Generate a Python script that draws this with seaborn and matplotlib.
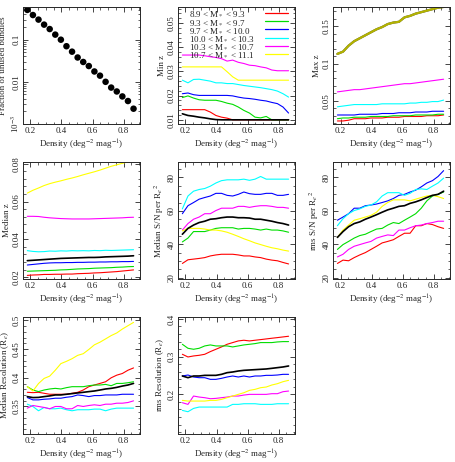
import matplotlib
matplotlib.use("Agg")
import matplotlib.pyplot as plt
import seaborn as sns
from matplotlib.lines import Line2D
from matplotlib.ticker import AutoMinorLocator, FuncFormatter, LogLocator, NullFormatter

density = [0.18, 0.216, 0.252, 0.288, 0.324, 0.36, 0.396, 0.432, 0.468, 0.504,
           0.54, 0.576, 0.612, 0.648, 0.684, 0.72, 0.756, 0.792, 0.828, 0.864]

bins = ["8.9 < M$_*$ < 9.3", "9.3 < M$_*$ < 9.7", "9.7 < M$_*$ < 10.0",
        "10.0 < M$_*$ < 10.3", "10.3 < M$_*$ < 10.7", "10.7 < M$_*$ < 11.1"]
bin_colors = ["red", "#00dd00", "blue", "cyan", "magenta", "yellow"]

unused_frac = [0.51, 0.385, 0.30, 0.228, 0.179, 0.132, 0.10, 0.070, 0.052, 0.0378,
               0.0296, 0.0237, 0.0176, 0.014, 0.010, 0.0073, 0.0059, 0.0045, 0.0035, 0.0023]

# Min z
min_z_all = [0.0125, 0.0118, 0.0115, 0.0111, 0.0108, 0.0104, 0.0101, 0.01, 0.01, 0.01,
             0.01, 0.01, 0.01, 0.01, 0.01, 0.01, 0.01, 0.01, 0.01, 0.01]
min_z = [
    [0.0142, 0.0142, 0.0142, 0.0142, 0.0142, 0.0132, 0.0118, 0.0111, 0.0107, 0.01,
     0.01, 0.01, 0.01, 0.01, 0.01, 0.01, 0.01, 0.01, 0.01, 0.01],
    [0.0192, 0.0199, 0.019, 0.0183, 0.0181, 0.0181, 0.0181, 0.0176, 0.0169, 0.0164,
     0.0153, 0.0139, 0.0128, 0.0111, 0.0108, 0.0114, 0.01, 0.01, 0.01, 0.01],
    [0.0208, 0.0211, 0.0204, 0.0201, 0.0201, 0.0201, 0.0201, 0.0201, 0.0201, 0.0199,
     0.0194, 0.019, 0.0188, 0.0185, 0.0181, 0.0178, 0.0172, 0.0167, 0.0153, 0.0128],
    [0.0264, 0.0253, 0.0267, 0.0268, 0.0264, 0.026, 0.0253, 0.0253, 0.025, 0.025,
     0.0246, 0.0242, 0.0239, 0.0236, 0.0233, 0.0229, 0.0225, 0.0219, 0.0208, 0.0194],
    [0.0368, 0.0368, 0.0368, 0.0368, 0.0365, 0.0361, 0.0358, 0.0353, 0.0343, 0.0347,
     0.0338, 0.0333, 0.0326, 0.0324, 0.0319, 0.0315, 0.0306, 0.0303, 0.0303, 0.0303],
    [0.0319, 0.0319, 0.0319, 0.0319, 0.0319, 0.0319, 0.0319, 0.0319, 0.0299, 0.0278,
     0.0264, 0.0264, 0.0264, 0.0264, 0.0264, 0.0264, 0.0264, 0.0264, 0.0264, 0.0264],
]

# Max z
max_z = [
    [0.023, 0.023, 0.024, 0.026, 0.026, 0.026, 0.027, 0.027, 0.027, 0.028,
     0.028, 0.028, 0.029, 0.029, 0.029, 0.029, 0.030, 0.030, 0.030, 0.031],
    [0.026, 0.027, 0.027, 0.028, 0.028, 0.028, 0.029, 0.029, 0.029, 0.029,
     0.030, 0.030, 0.030, 0.030, 0.031, 0.031, 0.031, 0.031, 0.032, 0.032],
    [0.031, 0.031, 0.031, 0.031, 0.032, 0.032, 0.032, 0.032, 0.033, 0.033,
     0.033, 0.034, 0.034, 0.034, 0.035, 0.035, 0.035, 0.036, 0.036, 0.036],
    [0.042, 0.043, 0.044, 0.045, 0.045, 0.045, 0.045, 0.045, 0.046, 0.046,
     0.046, 0.046, 0.046, 0.047, 0.047, 0.048, 0.048, 0.049, 0.049, 0.051],
    [0.062, 0.063, 0.064, 0.065, 0.065, 0.066, 0.067, 0.068, 0.069, 0.070,
     0.071, 0.072, 0.073, 0.073, 0.074, 0.075, 0.076, 0.077, 0.078, 0.079],
    [0.113, 0.116, 0.124, 0.130, 0.134, 0.138, 0.142, 0.146, 0.149, 0.153,
     0.155, 0.156, 0.162, 0.164, 0.167, 0.169, 0.171, 0.173, 0.175, 0.176],
]
max_z_all = max_z[5]

# Median z
med_z_all = [0.0287, 0.0289, 0.0291, 0.0293, 0.0295, 0.0297, 0.0299, 0.0300, 0.0301, 0.0302,
             0.0303, 0.0304, 0.0304, 0.0305, 0.0307, 0.0308, 0.0309, 0.0310, 0.0311, 0.0313]
med_z = [
    [0.0209, 0.0211, 0.0212, 0.0214, 0.0214, 0.0215, 0.0215, 0.0216, 0.0216, 0.0218,
     0.0219, 0.0220, 0.0222, 0.0223, 0.0225, 0.0227, 0.0229, 0.0232, 0.0235, 0.0238],
    [0.0231, 0.0232, 0.0233, 0.0234, 0.0235, 0.0236, 0.0238, 0.0239, 0.0241, 0.0243,
     0.0244, 0.0245, 0.0247, 0.0248, 0.0249, 0.0250, 0.0252, 0.0253, 0.0255, 0.0256],
    [0.0264, 0.0267, 0.0270, 0.0273, 0.0275, 0.0276, 0.0276, 0.0277, 0.0277, 0.0278,
     0.0278, 0.0279, 0.0279, 0.0280, 0.0280, 0.0281, 0.0281, 0.0282, 0.0282, 0.0283],
    [0.0340, 0.0336, 0.0334, 0.0335, 0.0338, 0.0337, 0.0339, 0.0338, 0.0340, 0.0339,
     0.0340, 0.0339, 0.0341, 0.0340, 0.0342, 0.0341, 0.0342, 0.0343, 0.0344, 0.0345],
    [0.0522, 0.0522, 0.0521, 0.0517, 0.0514, 0.0512, 0.0510, 0.0509, 0.0508, 0.0508,
     0.0508, 0.0508, 0.0509, 0.0510, 0.0511, 0.0512, 0.0513, 0.0514, 0.0516, 0.0517],
    [0.0645, 0.0660, 0.0672, 0.0685, 0.0695, 0.0703, 0.0710, 0.0718, 0.0725, 0.0733,
     0.0742, 0.0750, 0.0758, 0.0767, 0.0777, 0.0787, 0.0795, 0.0803, 0.0810, 0.0818],
]

# Median S/N per Re^2
med_sn_all = [46.0, 49.5, 51.5, 53.0, 53.8, 55.0, 55.3, 55.9, 56.3, 56.3,
              55.9, 55.9, 55.7, 55.0, 55.0, 54.4, 53.8, 53.0, 52.4, 51.5]
med_sn = [
    [28.5, 30.7, 31.1, 31.5, 32.0, 33.0, 33.6, 34.0, 34.0, 34.0,
     33.6, 33.0, 33.0, 32.4, 32.0, 31.1, 30.5, 30.1, 29.1, 28.2],
    [41.4, 43.7, 47.6, 47.6, 47.6, 48.5, 49.5, 49.9, 49.9, 49.9,
     49.1, 49.5, 49.5, 49.1, 48.5, 49.1, 48.5, 48.5, 48.0, 47.2],
    [58.3, 63.1, 65.0, 67.0, 68.0, 68.9, 70.5, 70.5, 69.3, 68.9,
     69.9, 71.3, 70.3, 69.9, 69.9, 70.5, 70.5, 69.3, 69.3, 69.9],
    [61.2, 68.9, 71.8, 72.8, 73.4, 74.8, 76.7, 78.1, 78.6, 78.6,
     78.6, 79.0, 78.3, 79.0, 80.6, 79.0, 79.0, 79.0, 79.0, 79.0],
    [48.5, 52.4, 55.0, 56.3, 58.3, 58.3, 60.2, 61.6, 61.6, 61.6,
     62.7, 62.7, 62.1, 62.7, 63.1, 63.1, 62.7, 62.1, 62.1, 61.6],
    [48.0, 49.5, 49.5, 49.5, 49.1, 48.5, 48.5, 48.0, 47.2, 46.0,
     44.7, 43.3, 42.1, 40.8, 39.8, 38.8, 37.9, 37.3, 36.5, 35.9],
]

# rms S/N per Re^2
rms_sn_all = [44.1, 47.6, 50.5, 52.4, 53.4, 55.0, 56.3, 57.7, 59.2, 60.6,
              61.6, 62.7, 63.1, 64.5, 65.4, 66.6, 68.0, 69.3, 69.9, 71.8]
rms_sn = [
    [28.5, 30.5, 30.1, 32.0, 33.6, 35.0, 36.9, 38.8, 40.8, 41.7,
     42.7, 44.7, 46.6, 46.6, 51.1, 51.1, 52.4, 51.8, 50.5, 49.5],
    [36.9, 39.8, 41.7, 43.7, 45.2, 46.0, 47.6, 49.1, 49.5, 51.5,
     53.0, 52.4, 54.4, 56.3, 58.3, 61.6, 66.0, 68.9, 69.9, 71.3],
    [54.4, 56.3, 58.3, 61.6, 61.6, 63.1, 63.5, 64.1, 65.0, 66.0,
     67.4, 69.3, 69.9, 71.3, 72.4, 74.4, 76.7, 78.1, 80.6, 84.1],
    [51.1, 55.3, 58.3, 60.2, 61.2, 62.7, 63.5, 65.4, 68.9, 70.9,
     70.9, 70.9, 69.3, 70.5, 72.8, 73.2, 72.8, 74.8, 76.7, 79.6],
    [32.4, 34.0, 36.9, 38.8, 39.8, 40.8, 41.7, 43.7, 44.7, 45.6,
     45.2, 48.5, 48.5, 49.9, 51.1, 51.5, 52.4, 53.0, 53.8, 53.8],
    [44.1, 48.5, 51.5, 54.4, 55.3, 56.3, 57.3, 59.2, 62.7, 65.0,
     66.6, 66.6, 66.6, 66.0, 67.0, 68.0, 68.9, 69.3, 68.5, 67.4],
]

# Median resolution (Re)
med_res_all = [0.3672, 0.3655, 0.3658, 0.3672, 0.3684, 0.3701, 0.3701, 0.3713, 0.3724, 0.3736,
               0.3747, 0.3759, 0.3770, 0.3787, 0.3805, 0.3816, 0.3833, 0.3856, 0.3874, 0.3902]
med_res = [
    [0.3747, 0.3741, 0.3747, 0.3730, 0.3713, 0.3713, 0.3713, 0.3713, 0.3730, 0.3747,
     0.3787, 0.3845, 0.3874, 0.3902, 0.3931, 0.4000, 0.4046, 0.4075, 0.4132, 0.4172],
    [0.3845, 0.3787, 0.3759, 0.3787, 0.3805, 0.3816, 0.3805, 0.3828, 0.3845, 0.3845,
     0.3845, 0.3862, 0.3874, 0.3874, 0.3885, 0.3862, 0.3902, 0.3902, 0.3914, 0.3931],
    [0.3655, 0.3615, 0.3615, 0.3626, 0.3632, 0.3644, 0.3644, 0.3661, 0.3672, 0.3701,
     0.3690, 0.3672, 0.3690, 0.3690, 0.3701, 0.3701, 0.3701, 0.3713, 0.3713, 0.3713],
    [0.3540, 0.3500, 0.3425, 0.3483, 0.3460, 0.3460, 0.3471, 0.3443, 0.3425, 0.3443,
     0.3443, 0.3443, 0.3454, 0.3454, 0.3425, 0.3454, 0.3471, 0.3471, 0.3471, 0.3471],
    [0.3471, 0.3517, 0.3500, 0.3483, 0.3460, 0.3500, 0.3500, 0.3460, 0.3460, 0.3517,
     0.3500, 0.3517, 0.3529, 0.3517, 0.3540, 0.3540, 0.3557, 0.3557, 0.3569, 0.3598],
    [0.3845, 0.3770, 0.3900, 0.3989, 0.4029, 0.4132, 0.4247, 0.4287, 0.4333, 0.4391,
     0.4420, 0.4494, 0.4575, 0.4621, 0.4678, 0.4736, 0.4782, 0.4850, 0.4908, 0.4966],
]

# rms resolution (Re)
rms_res_all = [0.2487, 0.2442, 0.2487, 0.2487, 0.2504, 0.2504, 0.2504, 0.2531, 0.2575, 0.2593,
               0.2619, 0.2637, 0.2646, 0.2655, 0.2664, 0.2673, 0.2690, 0.2708, 0.2726, 0.2752]
rms_res = [
    [0.3062, 0.2991, 0.3018, 0.3035, 0.3062, 0.3133, 0.3195, 0.3257, 0.3327, 0.3372,
     0.3416, 0.3434, 0.3416, 0.3434, 0.3451, 0.3469, 0.3487, 0.3504, 0.3522, 0.3540],
    [0.3327, 0.3221, 0.3195, 0.3221, 0.3283, 0.3310, 0.3283, 0.3283, 0.3283, 0.3257,
     0.3283, 0.3310, 0.3327, 0.3345, 0.3372, 0.3372, 0.3372, 0.3389, 0.3398, 0.3398],
    [0.2487, 0.2513, 0.2460, 0.2442, 0.2442, 0.2398, 0.2398, 0.2425, 0.2460, 0.2487,
     0.2460, 0.2487, 0.2460, 0.2487, 0.2487, 0.2504, 0.2504, 0.2513, 0.2531, 0.2531],
    [0.1575, 0.1540, 0.1628, 0.1664, 0.1664, 0.1664, 0.1664, 0.1664, 0.1664, 0.1735,
     0.1735, 0.1752, 0.1752, 0.1752, 0.1735, 0.1735, 0.1735, 0.1752, 0.1752, 0.1752],
    [0.1779, 0.1735, 0.1956, 0.1929, 0.1912, 0.1885, 0.1894, 0.1912, 0.1929, 0.1956,
     0.1956, 0.1982, 0.2000, 0.2000, 0.2000, 0.2000, 0.2018, 0.2018, 0.2071, 0.2088],
    [0.1841, 0.1823, 0.1823, 0.1823, 0.1823, 0.1841, 0.1841, 0.1867, 0.1912, 0.1956,
     0.2000, 0.2044, 0.2106, 0.2133, 0.2177, 0.2195, 0.2248, 0.2283, 0.2336, 0.2372],
]

sns.set_style("ticks")
plt.rcParams["font.family"] = ["Liberation Serif", "DejaVu Serif"]
plt.rcParams["mathtext.fontset"] = "stix"
plt.rcParams.update({
    "font.size": 6.5,
    "axes.linewidth": 0.7,
    "xtick.direction": "in", "ytick.direction": "in",
    "xtick.top": True, "ytick.right": True,
    "xtick.minor.visible": True, "ytick.minor.visible": True,
    "xtick.major.size": 3.5, "ytick.major.size": 3.5,
    "xtick.minor.size": 1.8, "ytick.minor.size": 1.8,
    "xtick.major.width": 0.6, "ytick.major.width": 0.6,
    "xtick.minor.width": 0.5, "ytick.minor.width": 0.5,
    "xtick.major.pad": 2, "ytick.major.pad": 1.5,
})

fig, axes = plt.subplots(3, 3, figsize=(4.55, 4.62), dpi=100)
fig.subplots_adjust(left=0.0505, right=0.989, bottom=0.0606, top=0.985,
                    wspace=0.326, hspace=0.325)

xlabel = "Density (deg$^{-2}$ mag$^{-1}$)"
gfmt = FuncFormatter(lambda v, p: "%g" % v)

panels = [
    (axes[1, 0], med_z, med_z_all, "Median z", (0.019, 0.081), [0.02, 0.04, 0.06, 0.08], 5),
    (axes[0, 1], min_z, min_z_all, "Min z", (0.0083, 0.0567), [0.01, 0.02, 0.03, 0.04, 0.05], 5),
    (axes[0, 2], max_z, max_z_all, "Max z", (0.019, 0.176), [0.05, 0.1, 0.15], 5),
    (axes[1, 1], med_sn, med_sn_all, "Median S/N per R$_e$$^2$", (19.2, 89.3), [20, 40, 60, 80], 4),
    (axes[1, 2], rms_sn, rms_sn_all, "rms S/N per R$_e$$^2$", (19.2, 89.3), [20, 40, 60, 80], 4),
    (axes[2, 0], med_res, med_res_all, "Median Resolution (R$_e$)", (0.302, 0.506), [0.35, 0.4, 0.45, 0.5], 5),
    (axes[2, 1], rms_res, rms_res_all, "rms Resolution (R$_e$)", (0.095, 0.405), [0.2, 0.3, 0.4], 5),
]

# panel 1: fraction of unused bundles
ax = axes[0, 0]
sns.scatterplot(x=density, y=unused_frac, color="black", s=22, edgecolor="none", ax=ax)
ax.set_yscale("log")
ax.set_ylim(1e-3, 0.6)
ax.set_yticks([1e-3, 1e-2, 1e-1])
ax.set_yticklabels(["10$^{-3}$", "0.01", "0.1"])
ax.yaxis.set_minor_locator(LogLocator(base=10, subs=range(2, 10)))
ax.yaxis.set_minor_formatter(NullFormatter())
ax.set_ylabel("Fraction of unused bundles")

for ax, series, overall, ylab, ylim, yt, nminor in panels:
    if ylab == "Max z":
        # the overall max coincides with the top mass bin
        sns.lineplot(x=density, y=overall, color="black", lw=1.6, ax=ax)
        for vals, c in zip(series[:5], bin_colors[:5]):
            sns.lineplot(x=density, y=vals, color=c, lw=0.8, ax=ax)
        sns.lineplot(x=density, y=series[5], color="yellow", lw=1.6, alpha=0.7, ax=ax)
    else:
        for vals, c in zip(series, bin_colors):
            sns.lineplot(x=density, y=vals, color=c, lw=0.8, ax=ax)
        sns.lineplot(x=density, y=overall, color="black", lw=1.2, ax=ax)
    ax.set_ylim(*ylim)
    ax.set_yticks(yt)
    ax.yaxis.set_major_formatter(gfmt)
    ax.yaxis.set_minor_locator(AutoMinorLocator(nminor))
    ax.set_ylabel(ylab)

for ax in axes.flat[:8]:
    ax.set_xlim(0.152, 0.905)
    ax.set_xticks([0.2, 0.4, 0.6, 0.8])
    ax.xaxis.set_major_formatter(gfmt)
    ax.xaxis.set_minor_locator(AutoMinorLocator(4))
    ax.set_xlabel(xlabel, labelpad=2)
    ax.yaxis.labelpad = 1.5
    for t in ax.get_yticklabels():
        t.set_rotation(90)
        t.set_va("center")

# legend in the Min z panel: left-aligned labels, line samples in a column on the right
ax = axes[0, 1]
line_handles = [Line2D([], [], color=c, lw=0.9) for c in bin_colors]
blank_handles = [Line2D([], [], linestyle="none") for c in bin_colors]
leg_kw = dict(loc="upper left", frameon=False, labelspacing=-0.08,
              borderaxespad=0.15, borderpad=0.15, fontsize=6.5)
leg_text = ax.legend(blank_handles, bins, bbox_to_anchor=(0.07, 1.0),
                     handlelength=0, handletextpad=0, **leg_kw)
ax.add_artist(leg_text)
leg_lines = ax.legend(line_handles, bins, bbox_to_anchor=(0.72, 1.0),
                      handlelength=2.6, handletextpad=0, **leg_kw)
for t in leg_lines.get_texts():
    t.set_alpha(0)

axes[2, 2].axis("off")

fig.savefig("out.png", dpi=100)
